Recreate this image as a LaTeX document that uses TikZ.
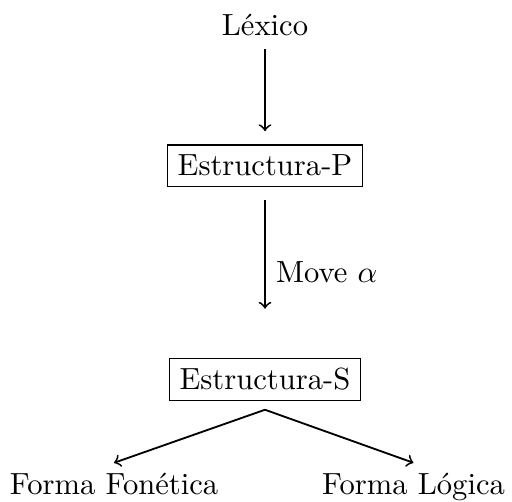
\documentclass[tikz,border=0pt]{standalone}
\usepackage{fontspec}
\tikzset{
  flecha/.style={->, >=to, semithick},
  caja/.style={draw, thin}
}
\begin{document}
\begin{tikzpicture}[x=0.3268pt, y=-0.3268pt]%
   % Scaling chosen so 1 unit = 1 pixel of the target (y runs downward)
   \useasboundingbox (0,0) rectangle (512,502);

   % Levels
   \node[anchor=base] (lexico) at (265,35) {Léxico};
   \node[caja, anchor=base] (estP) at (265,176) {Estructura-P};
   \node[caja, anchor=base] (estS) at (265,390) {Estructura-S};
   \node[anchor=base] (fonetica) at (114,495) {Forma Fonética};
   \node[anchor=base] (logica) at (413.5,495) {Forma Lógica};
   \coordinate (bifur) at ([yshift=-2.7pt]estS.south);

   % Arrows
   \draw[flecha, shorten <=1pt, shorten >=4.3pt] (lexico) -- (estP);
   \draw[flecha, shorten <=4.2pt, shorten >=16pt] (estP) -- node[right] {Move $\alpha$} (estS);

   % Split into the two interfaces
   \draw[flecha] (bifur) -- (fonetica.north);
   \draw[flecha] (bifur) -- (logica.north);
 \end{tikzpicture}
\end{document}
